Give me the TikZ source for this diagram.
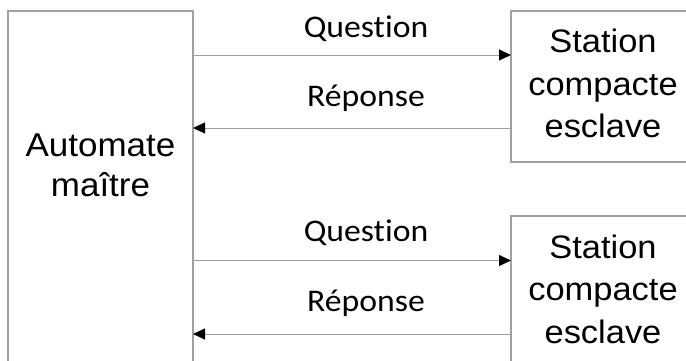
\documentclass[tikz,border=0pt]{standalone}
\usepackage{fontspec}
\usetikzlibrary{arrows.meta}
\newfontfamily\arialx[FakeStretch=1.06]{Liberation Sans}
\newfontfamily\calx[FakeStretch=1.07,Ligatures=NoCommon]{Carlito}
\definecolor{boxgray}{HTML}{A0A0A0}
\definecolor{linegray}{HTML}{A0A0A0}
\begin{document}
\begin{tikzpicture}[x=1pt,y=-1pt,
  box/.style={draw=boxgray, line width=1.2pt, inner sep=0pt, outer sep=0pt, anchor=north west},
  boxtext/.style={font=\arialx\fontsize{32.5}{42.5}\selectfont, align=center, inner sep=0pt},
  lbl/.style={font=\calx\fontsize{31.5}{36}\selectfont, anchor=base, inner sep=0pt},
  arr/.style={draw=linegray, line width=1pt, -{Triangle[length=12pt,width=11pt,color=black]}}]
\useasboundingbox (0,0) rectangle (686,360);
\fill[white] (0,0) rectangle (686,360);
\clip (0,0) rectangle (686,360);
\node[box, minimum width=185pt, minimum height=357pt] (master) at (8,11) {};
\node[box, minimum width=190pt, minimum height=151pt] (s1) at (511,11) {};
\node[box, minimum width=190pt, minimum height=151pt] (s2) at (511,216) {};
\node[boxtext, font=\arialx\fontsize{33}{40}\selectfont] (mt) at (100.5,165) {Automate\\maître};
\node[boxtext] (t1) at (603,83.5) {Station\\compacte\\esclave};
\node[boxtext] (t2) at (603,289) {Station\\compacte\\esclave};
\coordinate (y1) at (0,55);
\coordinate (y2) at (0,128);
\coordinate (y3) at (0,260.5);
\coordinate (y4) at (0,334);
\draw[arr] (master.east |- y1) -- (s1.west |- y1);
\draw[arr] (s1.west |- y2) -- (master.east |- y2);
\draw[arr] (master.east |- y3) -- (s2.west |- y3);
\draw[arr] (s2.west |- y4) -- (master.east |- y4);
\node[lbl] (q1) at (366,37) {Question};
\node[lbl] (r1) at (366,106.7) {Réponse};
\node[lbl] (q2) at (366,241.7) {Question};
\node[lbl] (r2) at (366,311.7) {Réponse};
\end{tikzpicture}
\end{document}
